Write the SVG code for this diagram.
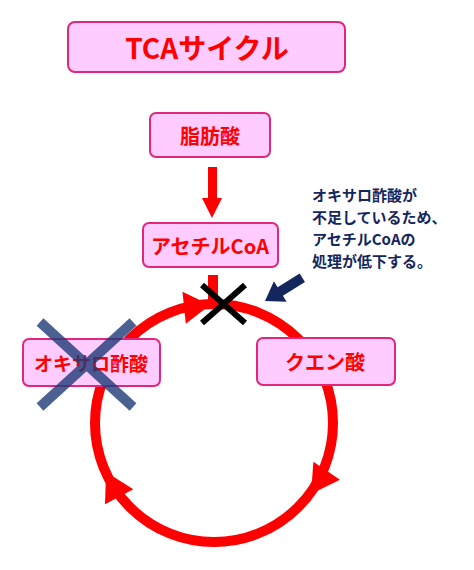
<svg xmlns="http://www.w3.org/2000/svg" width="474" height="570" viewBox="0 0 474 570">
<style>
.box{fill:#ffccff;stroke:#e2267a;stroke-width:2}
.lbl{font-family:"Noto Sans CJK JP","Noto Sans",sans-serif;font-weight:bold;fill:#ff0000;text-anchor:middle;dominant-baseline:central}
.note{font-family:"Noto Sans CJK JP","Noto Sans",sans-serif;font-weight:bold;fill:#13265e;font-size:15px}
.red{fill:#ff0000}
</style>
<rect width="474" height="570" fill="#ffffff"/>
<g id="title">
<rect class="box" x="68" y="22" width="277" height="50" rx="7"/>
<text class="lbl" x="207" y="47" font-size="28">TCAサイクル</text>
</g>
<g id="connectors">
<circle cx="214" cy="423" r="119" fill="none" stroke="#ff0000" stroke-width="10"/>
<rect class="red" x="208" y="167" width="9" height="33"/>
<polygon class="red" points="202,198 222,198 212,218"/>
<rect class="red" x="208" y="275" width="10" height="30"/>
</g>
<g id="fatty-acid">
<rect class="box" x="150" y="113" width="120" height="44" rx="6"/>
<text class="lbl" x="210" y="135" font-size="20">脂肪酸</text>
</g>
<g id="acetyl-coa">
<rect class="box" x="143" y="223" width="135" height="44" rx="6"/>
<text class="lbl" x="210" y="245" font-size="20">アセチルCoA</text>
</g>
<g id="oxaloacetate">
<rect class="box" x="23" y="339" width="137" height="47" rx="6"/>
<text class="lbl" x="91" y="362" font-size="19">オキサロ酢酸</text>
</g>
<g id="citrate">
<rect class="box" x="257" y="338" width="138" height="47" rx="6"/>
<text class="lbl" x="325" y="361" font-size="20">クエン酸</text>
</g>
<g id="arrowheads">
<polygon class="red" points="0,0 -26,-16 -26,16" transform="translate(210,305) rotate(-6)"/>
<polygon class="red" points="0,0 -28,-16 -28,16" transform="translate(311,494) rotate(124)"/>
<polygon class="red" points="0,0 -28,-16 -28,16" transform="translate(106,472) rotate(242)"/>
</g>
<g id="block-x">
<line x1="202" y1="285" x2="245" y2="323" stroke="#000" stroke-width="6"/>
<line x1="245" y1="285" x2="202" y2="323" stroke="#000" stroke-width="6"/>
</g>
<g id="cross-oxaloacetate" opacity="0.8">
<line x1="40" y1="322" x2="133" y2="407" stroke="#1e3a78" stroke-width="10"/>
<line x1="133" y1="322" x2="40" y2="407" stroke="#1e3a78" stroke-width="10"/>
</g>
<g id="note">
<text class="note" x="312" y="201">オキサロ酢酸が</text>
<text class="note" x="312" y="223">不足しているため、</text>
<text class="note" x="312" y="245">アセチルCoAの</text>
<text class="note" x="312" y="267">処理が低下する。</text>
<polygon fill="#13265e" points="0,0 -18,-12 -18,-5 -44,-5 -44,5 -18,5 -18,12" transform="translate(265,301) rotate(148)"/>
</g>
</svg>
